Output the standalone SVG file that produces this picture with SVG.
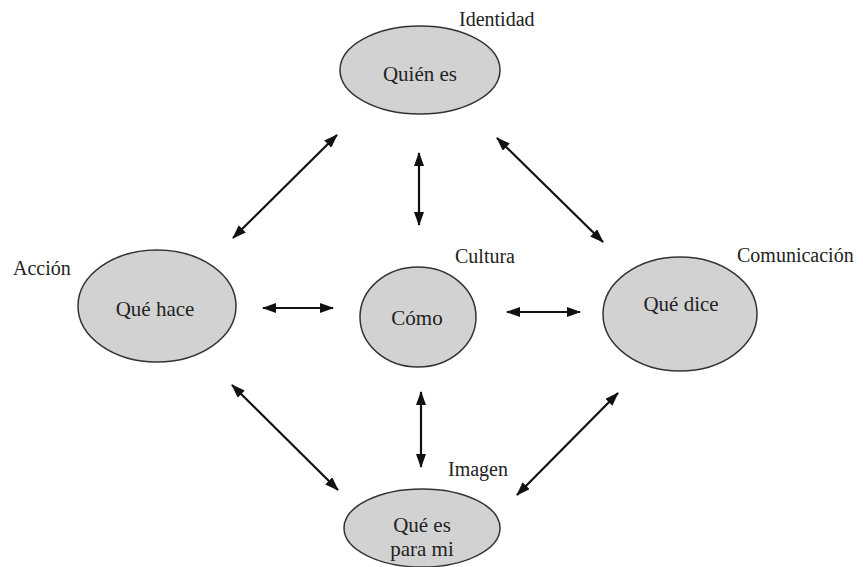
<svg xmlns="http://www.w3.org/2000/svg" width="863" height="567" viewBox="0 0 863 567">
  <defs>
    <marker id="ah" viewBox="0 0 14 10" refX="13" refY="5" markerWidth="14" markerHeight="10" markerUnits="userSpaceOnUse" orient="auto-start-reverse">
      <path d="M0,0 L14,5 L0,10 z" fill="#111"/>
    </marker>
  </defs>
  <style>
    .node ellipse { fill: #d2d2d2; stroke: #333; stroke-width: 1.5; }
    .t { font-family: "Liberation Serif", "Times New Roman", serif; font-size: 21px; fill: #222; text-anchor: middle; }
    .lbl { font-family: "Liberation Serif", "Times New Roman", serif; font-size: 20px; fill: #222; }
    .conn line { stroke: #111; stroke-width: 2.2; marker-start: url(#ah); marker-end: url(#ah); }
  </style>
  <rect width="863" height="567" fill="#fff"/>

  <g id="node-quien" class="node">
    <ellipse cx="420" cy="70" rx="80" ry="44"/>
    <text class="t" x="420" y="81">Quién es</text>
    <text class="lbl" x="459" y="26">Identidad</text>
  </g>
  <g id="node-hace" class="node">
    <ellipse cx="157" cy="306" rx="79" ry="56"/>
    <text class="t" x="155" y="316">Qué hace</text>
    <text class="lbl" x="13" y="275">Acción</text>
  </g>
  <g id="node-como" class="node">
    <ellipse cx="418" cy="317" rx="58" ry="50"/>
    <text class="t" x="417" y="325">Cómo</text>
    <text class="lbl" x="455" y="263">Cultura</text>
  </g>
  <g id="node-dice" class="node">
    <ellipse cx="680" cy="314" rx="77" ry="57"/>
    <text class="t" x="681" y="311">Qué dice</text>
    <text class="lbl" x="737" y="262">Comunicación</text>
  </g>
  <g id="node-para-mi" class="node">
    <ellipse cx="422" cy="528" rx="78" ry="39"/>
    <text class="t" x="422" y="532">Qué es</text>
    <text class="t" x="422" y="556">para mi</text>
    <text class="lbl" x="448" y="476">Imagen</text>
  </g>

  <g id="connectors" class="conn">
    <line x1="233" y1="238" x2="337" y2="135"/>
    <line x1="419" y1="153" x2="419" y2="225"/>
    <line x1="497" y1="138" x2="603" y2="242"/>
    <line x1="263" y1="308" x2="333" y2="308"/>
    <line x1="507" y1="312" x2="580" y2="312"/>
    <line x1="232" y1="385" x2="338" y2="490"/>
    <line x1="421" y1="392" x2="421" y2="467"/>
    <line x1="517" y1="495" x2="618" y2="393"/>
  </g>
</svg>
